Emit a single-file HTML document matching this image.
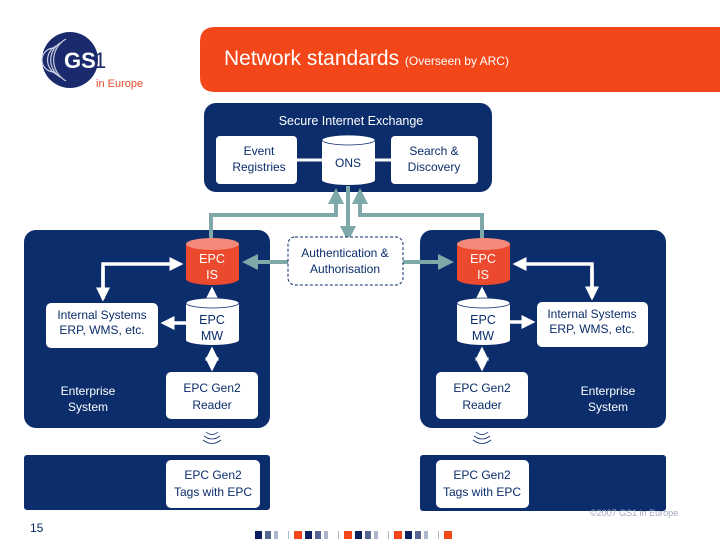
<!DOCTYPE html>
<html><head><meta charset="utf-8"><style>
body{margin:0;width:720px;height:540px;overflow:hidden;background:#fff}
svg text{font-family:"Liberation Sans",sans-serif}
</style></head><body>
<svg width="720" height="540" viewBox="0 0 720 540" xmlns="http://www.w3.org/2000/svg">
<defs>
<marker id="wa" markerWidth="4" markerHeight="4" refX="3" refY="2" orient="auto" markerUnits="strokeWidth"><path d="M0,0 L4,2 L0,4 z" fill="#fff"/></marker>
<marker id="ta" markerWidth="4" markerHeight="4" refX="3" refY="2" orient="auto" markerUnits="strokeWidth"><path d="M0,0 L4,2 L0,4 z" fill="#7fa8a8"/></marker>
</defs>
<!-- logo -->
<circle cx="70" cy="60" r="28" fill="#1a2a6c"/>
<g fill="none" stroke="#c9cde0" stroke-width="1.2">
<path d="M62,42 A20,20 0 0 0 62,78"/><path d="M58,45 A16,16 0 0 0 58,75"/><path d="M54,48 A12,12 0 0 0 54,72"/><path d="M66,39 A24,24 0 0 0 66,81"/>
</g>
<text x="64" y="68" font-size="22" fill="#fff" font-weight="bold">GS</text>
<text x="94" y="68" font-size="22" fill="#1a2a6c">1</text>
<text x="96" y="87" font-size="11" fill="#e8502a">in Europe</text>
<!-- banner -->
<path d="M215,27 H720 V92 H215 Q200,92 200,77 V42 Q200,27 215,27 Z" fill="#f3471a"/>
<text x="224" y="65" font-size="21" fill="#fff">Network standards <tspan font-size="12">(Overseen by ARC)</tspan></text>
<!-- secure exchange -->
<rect x="204" y="103" width="288" height="89" rx="12" fill="#0b2d6b"/>
<text x="351" y="125" font-size="12.5" fill="#fff" text-anchor="middle">Secure Internet Exchange</text>
<line x1="297" y1="160" x2="322" y2="160" stroke="#fff" stroke-width="3"/>
<line x1="375" y1="160" x2="391" y2="160" stroke="#fff" stroke-width="3"/>
<rect x="216" y="136" width="81" height="48" rx="4" fill="#fff"/>
<text x="259" y="155" font-size="12" fill="#0b2d6b" text-anchor="middle">Event</text>
<text x="259" y="171" font-size="12" fill="#0b2d6b" text-anchor="middle">Registries</text>
<path d="M322,140 V180 A26.5,5 0 0 0 375,180 V140 Z" fill="#fff"/>
<ellipse cx="348.5" cy="140" rx="26.5" ry="5" fill="#fff" stroke="#0b2d6b" stroke-width="0.8"/>
<text x="348" y="167" font-size="12" fill="#0b2d6b" text-anchor="middle">ONS</text>
<rect x="391" y="136" width="87" height="48" rx="4" fill="#fff"/>
<text x="434" y="155" font-size="12" fill="#0b2d6b" text-anchor="middle">Search &amp;</text>
<text x="434" y="171" font-size="12" fill="#0b2d6b" text-anchor="middle">Discovery</text>
<!-- enterprise boxes -->
<rect x="24" y="230" width="246" height="198" rx="12" fill="#0b2d6b"/>
<rect x="420" y="230" width="246" height="198" rx="12" fill="#0b2d6b"/>
<rect x="24" y="455" width="246" height="55" rx="3" fill="#0b2d6b"/>
<rect x="420" y="455" width="246" height="56" rx="3" fill="#0b2d6b"/>
<!-- teal connectors -->
<g stroke="#7fa8a8" stroke-width="4" fill="none">
<path d="M211,240 V215 H336 V192" marker-end="url(#ta)"/>
<path d="M482,240 V215 H360 V192" marker-end="url(#ta)"/>
<path d="M348,186 V238" marker-end="url(#ta)"/>
<path d="M288,262 H246" marker-end="url(#ta)"/>
<path d="M403,262 H450" marker-end="url(#ta)"/>
</g>
<rect x="288" y="237" width="115" height="48" rx="7" fill="#fff" stroke="#0b2d6b" stroke-dasharray="3,2"/>
<text x="345" y="257" font-size="12" fill="#0b2d6b" text-anchor="middle">Authentication &amp;</text>
<text x="345" y="273" font-size="12" fill="#0b2d6b" text-anchor="middle">Authorisation</text>
<!-- white arrows -->
<g stroke="#fff" stroke-width="3.5" fill="none">
<path d="M103,299 V264 H180" marker-end="url(#wa)"/>
<path d="M103,268 V298" marker-end="url(#wa)"/>
<path d="M212,297 V290" marker-end="url(#wa)"/>
<path d="M186,323 H164" marker-end="url(#wa)"/>
<path d="M212,360 V350" marker-end="url(#wa)"/>
<path d="M212,358 V368" marker-end="url(#wa)"/>
<path d="M592,298 V264 H516" marker-end="url(#wa)"/>
<path d="M592,268 V297" marker-end="url(#wa)"/>
<path d="M482,297 V290" marker-end="url(#wa)"/>
<path d="M510,322 H532" marker-end="url(#wa)"/>
<path d="M482,360 V350" marker-end="url(#wa)"/>
<path d="M482,358 V368" marker-end="url(#wa)"/>
</g>
<!-- cylinders -->
<g>
<path d="M186,244 V279 A26.5,6 0 0 0 239,279 V244 Z" fill="#ec4a2e"/>
<ellipse cx="212.5" cy="244" rx="26.5" ry="6" fill="#f58a7a"/>
<text x="212" y="263" font-size="12.5" fill="#fff" text-anchor="middle">EPC</text>
<text x="212" y="279" font-size="12.5" fill="#fff" text-anchor="middle">IS</text>
<path d="M186,303 V340 A26.5,5 0 0 0 239,340 V303 Z" fill="#fff"/>
<ellipse cx="212.5" cy="303" rx="26.5" ry="5" fill="#fff" stroke="#0b2d6b" stroke-width="0.8"/>
<text x="212" y="324" font-size="12.5" fill="#0b2d6b" text-anchor="middle">EPC</text>
<text x="212" y="340" font-size="12.5" fill="#0b2d6b" text-anchor="middle">MW</text>
<path d="M457,244 V279 A26.5,6 0 0 0 510,279 V244 Z" fill="#ec4a2e"/>
<ellipse cx="483.5" cy="244" rx="26.5" ry="6" fill="#f58a7a"/>
<text x="483" y="263" font-size="12.5" fill="#fff" text-anchor="middle">EPC</text>
<text x="483" y="279" font-size="12.5" fill="#fff" text-anchor="middle">IS</text>
<path d="M457,303 V340 A26.5,5 0 0 0 510,340 V303 Z" fill="#fff"/>
<ellipse cx="483.5" cy="303" rx="26.5" ry="5" fill="#fff" stroke="#0b2d6b" stroke-width="0.8"/>
<text x="483" y="324" font-size="12.5" fill="#0b2d6b" text-anchor="middle">EPC</text>
<text x="483" y="340" font-size="12.5" fill="#0b2d6b" text-anchor="middle">MW</text>
</g>
<!-- white boxes -->
<g fill="#fff">
<rect x="46" y="303" width="112" height="45" rx="5"/>
<rect x="166" y="372" width="92" height="47" rx="5"/>
<rect x="166" y="460" width="94" height="48" rx="5"/>
<rect x="537" y="302" width="111" height="45" rx="5"/>
<rect x="436" y="372" width="92" height="47" rx="5"/>
<rect x="436" y="460" width="93" height="48" rx="5"/>
</g>
<g font-size="12" fill="#0b2d6b" text-anchor="middle">
<text x="102" y="319">Internal Systems</text><text x="102" y="334">ERP, WMS, etc.</text>
<text x="212" y="392">EPC Gen2</text><text x="212" y="409">Reader</text>
<text x="213" y="479">EPC Gen2</text><text x="213" y="496">Tags with EPC</text>
<text x="592" y="318">Internal Systems</text><text x="592" y="333">ERP, WMS, etc.</text>
<text x="482" y="392">EPC Gen2</text><text x="482" y="409">Reader</text>
<text x="482" y="479">EPC Gen2</text><text x="482" y="496">Tags with EPC</text>
</g>
<g font-size="12" fill="#fff" text-anchor="middle">
<text x="88" y="395">Enterprise</text><text x="88" y="411">System</text>
<text x="608" y="395">Enterprise</text><text x="608" y="411">System</text>
</g>
<!-- wireless -->
<g stroke="#0b2d6b" fill="none" stroke-width="0.8">
<path d="M206,432 Q212,437 218,432"/><path d="M204,436 Q212,442 220,436"/><path d="M203,440 Q212,447 221,440"/>
<path d="M476,432 Q482,437 488,432"/><path d="M474,436 Q482,442 490,436"/><path d="M473,440 Q482,447 491,440"/>
</g>
<!-- footer -->
<text x="30" y="532" font-size="12" fill="#0b2d6b">15</text>
<text x="590" y="516" font-size="9" fill="#a0a8c0">©2007 GS1 in Europe</text>
<g>
<rect x="255" y="531" width="7" height="8" fill="#0b1f5c"/><rect x="265" y="531" width="6" height="8" fill="#55678f"/><rect x="274" y="531" width="4" height="8" fill="#aeb6cc"/><rect x="288" y="531" width="1" height="8" fill="#aeb6cc"/>
<rect x="294" y="531" width="8" height="8" fill="#f3471a"/><rect x="305" y="531" width="7" height="8" fill="#0b1f5c"/><rect x="315" y="531" width="6" height="8" fill="#55678f"/><rect x="324" y="531" width="4" height="8" fill="#aeb6cc"/><rect x="338" y="531" width="1" height="8" fill="#aeb6cc"/>
<rect x="344" y="531" width="8" height="8" fill="#f3471a"/><rect x="355" y="531" width="7" height="8" fill="#0b1f5c"/><rect x="365" y="531" width="6" height="8" fill="#55678f"/><rect x="374" y="531" width="4" height="8" fill="#aeb6cc"/><rect x="388" y="531" width="1" height="8" fill="#aeb6cc"/>
<rect x="394" y="531" width="8" height="8" fill="#f3471a"/><rect x="405" y="531" width="7" height="8" fill="#0b1f5c"/><rect x="415" y="531" width="6" height="8" fill="#55678f"/><rect x="424" y="531" width="4" height="8" fill="#aeb6cc"/><rect x="438" y="531" width="1" height="8" fill="#aeb6cc"/>
<rect x="444" y="531" width="8" height="8" fill="#f3471a"/>
</g>
</svg>
</body></html>
